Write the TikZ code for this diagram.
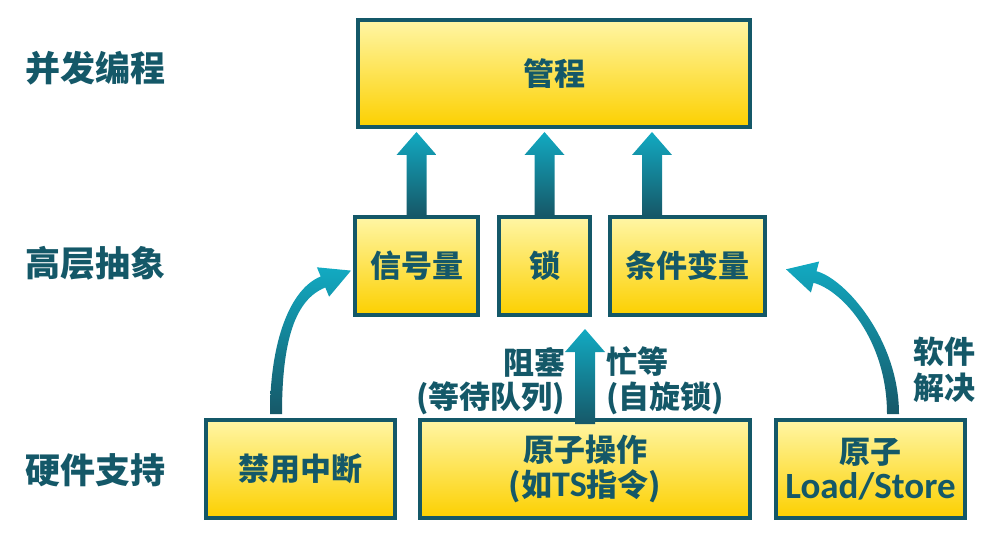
\documentclass[tikz,border=0pt]{standalone}
\usepackage{fontspec}
\setmainfont{Noto Sans CJK SC}
\newfontfamily\latfont{Carlito}
\usetikzlibrary{calc}
\definecolor{teal1}{RGB}{20,88,104}
\definecolor{boxtop}{RGB}{255,246,165}
\definecolor{boxbot}{RGB}{252,208,0}
\definecolor{arrtop}{RGB}{18,170,194}
\definecolor{arrbot}{RGB}{22,88,104}
\newcommand\blockup[2]{%
  \shade[arrowfill] let \p1=#1, \p2=#2 in
   (\x1-10pt,\y1) -- (\x1-10pt,\y2-23pt) -- (\x1-20pt,\y2-23pt) -- (\x1,\y2)
   -- (\x1+20pt,\y2-23pt) -- (\x1+10pt,\y2-23pt) -- (\x1+10pt,\y1) -- cycle;}
\begin{document}
\begin{tikzpicture}[x=1pt,y=-1pt,
  box/.style={draw=teal1, line width=4pt, top color=boxtop, bottom color=boxbot,
    text=teal1, font=\fontsize{31}{35}\selectfont\bfseries, align=center, inner sep=0pt},
  lbl/.style={text=teal1, font=\fontsize{35}{40}\selectfont\bfseries, anchor=west, inner sep=0pt},
  ann/.style={text=teal1, font=\fontsize{31}{36}\selectfont\bfseries, inner sep=0pt},
  arrowfill/.style={top color=arrtop, bottom color=arrbot, draw=none}]
\useasboundingbox (0,0) rectangle (998,537);

% left labels
\node[lbl] (l1) at (25,68) {并发编程};
\node[lbl] (l2) at (25,263) {高层抽象};
\node[lbl] (l3) at (25,470) {硬件支持};

% boxes
\node[box, minimum width=392, minimum height=107] (mon) at (554,73.5) {管程};
\node[box, minimum width=123, minimum height=98] (sig) at (416.5,266) {信号量};
\node[box, minimum width=91, minimum height=98] (lock) at (544.5,266) {锁};
\node[box, minimum width=155, minimum height=98] (cv) at (687.5,266) {条件变量};
\node[box, minimum width=189, minimum height=98] (intr) at (300.5,469) {禁用中断};
\node[box, minimum width=330, minimum height=98] (atom) at (585,469) {原子操作\\(如{\latfont\fontsize{36}{35}\selectfont TS}指令)};
\node[box, minimum width=189, minimum height=98] (ls) at (870.5,469) {原子\\{\latfont\fontsize{37}{35}\selectfont Load/Store}};

% straight block arrows
\blockup{(sig.north)}{([yshift=-3pt]mon.south)}
\blockup{(lock.north)}{([yshift=-3pt]mon.south)}
\blockup{([xshift=-35.5pt]cv.north)}{([yshift=-3pt]mon.south)}
\blockup{([yshift=-6pt]atom.north)}{([yshift=-12pt]lock.south)}

% curved arrows
\shade[arrowfill] (270,414) .. controls (270,340) and (290.7,288.5) .. (320.7,276.5)
  -- (316.9,267.3) -- (351,270.6) -- (329.1,296.7) -- (325.3,287.5)
  .. controls (295.3,299.5) and (282,340) .. (282,414) -- cycle;
\shade[arrowfill] (899,414) .. controls (899,340) and (845.5,278.9) .. (816.5,271.2)
  -- (819.1,261.5) -- (786,269.3) -- (810.9,292.5) -- (813.5,282.8)
  .. controls (842.5,290.5) and (887,340) .. (887,414) -- cycle;

% annotations
\node[ann, anchor=east] (blk1) at (566,362) {阻塞};
\node[ann, anchor=east] (blk2) at (565,398) {(等待队列)};
\node[ann, anchor=west] (busy1) at (606,362) {忙等};
\node[ann, anchor=west] (busy2) at (606,398) {(自旋锁)};
\node[ann, anchor=west] (sw1) at (913,352) {软件};
\node[ann, anchor=west] (sw2) at (913,388) {解决};
\end{tikzpicture}
\end{document}
